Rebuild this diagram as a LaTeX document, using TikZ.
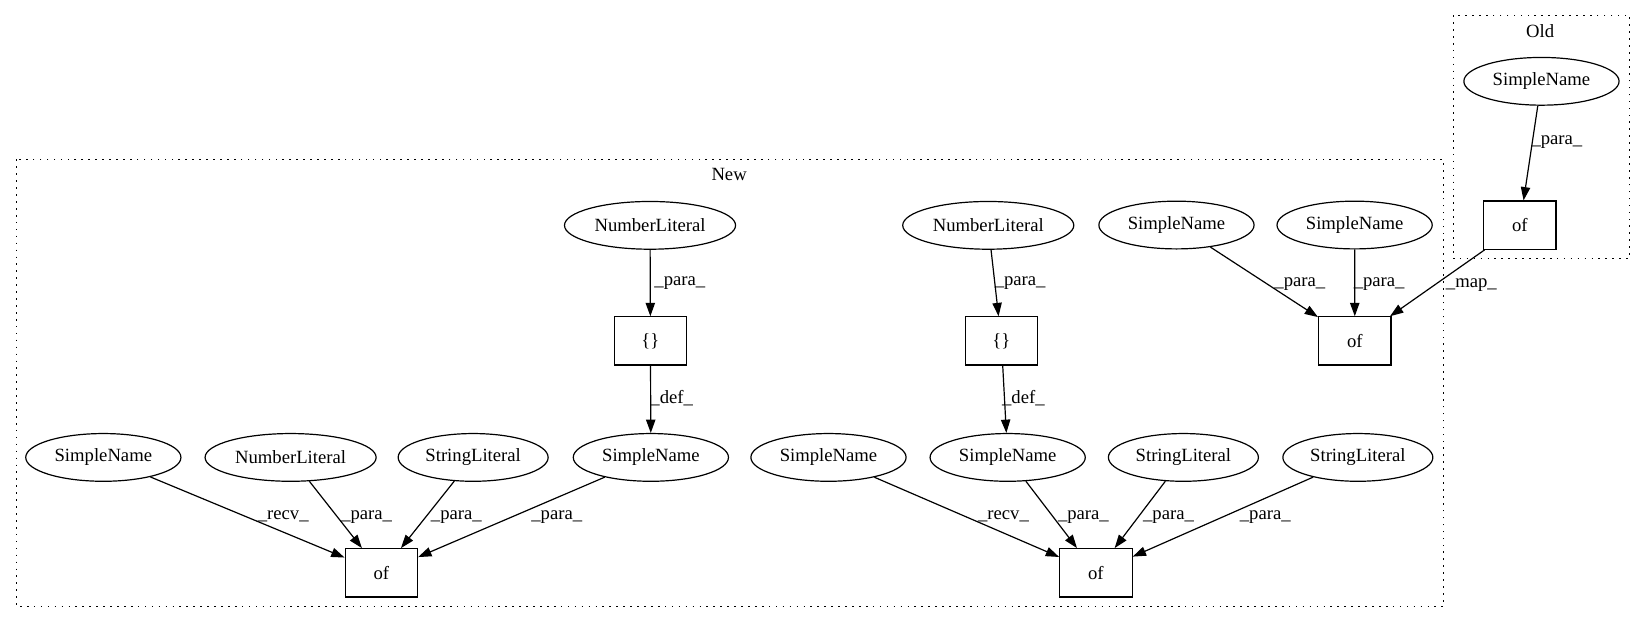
\documentclass[tikz,border=0pt]{standalone}
\usepackage{fontspec}
\setmainfont{Liberation Serif}
\usetikzlibrary{shapes.geometric,arrows.meta,calc}
\begin{document}
\begin{tikzpicture}[x=0.7868pt,y=-0.7868pt,
  every node/.style={font=\fontsize{14pt}{16pt}\selectfont},
  base/.style={draw,line width=0.9pt,inner sep=0pt,minimum height=35.8pt},
  sname/.style={base,ellipse,minimum width=116.4pt},
  nlit/.style={base,ellipse,minimum width=128.3pt},
  slit/.style={base,ellipse,minimum width=112.5pt},
  box/.style={base,rectangle,minimum width=54.3pt,minimum height=36.2pt},
  lbl/.style={inner sep=0pt},
  edge/.style={line width=0.9pt,-{Triangle[length=10pt,width=7pt]}},
  cluster/.style={line width=0.9pt,dash pattern=on 1.2pt off 4pt}
]
\useasboundingbox (0,0) rectangle (1568,595);
% clusters
\draw[cluster] (15.5,152) rectangle (1376,578);
\node[lbl] (newlbl) at (695,166) {New};
\draw[cluster] (1385.5,14.5) rectangle (1553,246.5);
\node[lbl] (oldlbl) at (1468,29.5) {Old};

% Old
\node[sname] (osn) at (1469.3,77.5) {SimpleName};
\node[box] (oof) at (1448.7,214.6) {of};

% New top row
\node[nlit] (nl1) at (619.6,214.8) {NumberLiteral};
\node[nlit] (nl2) at (942,214.8) {NumberLiteral};
\node[sname] (sn5) at (1121.4,214.5) {SimpleName};
\node[sname] (sn6) at (1291.2,214.5) {SimpleName};
% second row
\node[box] (br1) at (620,325) {\{\}};
\node[box] (br2) at (954.5,325) {\{\}};
\node[box] (of3) at (1291.4,325) {of};
% third row
\node[sname] (sn1) at (98.5,436) {SimpleName};
\node[nlit] (nl3) at (277,436) {NumberLiteral};
\node[slit] (sl1) at (451,436) {StringLiteral};
\node[sname] (sn2) at (620.4,436) {SimpleName};
\node[sname] (sn3) at (789.7,436) {SimpleName};
\node[sname] (sn4) at (960.5,436) {SimpleName};
\node[slit] (sl2) at (1128,436) {StringLiteral};
\node[slit] (sl3) at (1294.3,436) {StringLiteral};
% bottom row
\node[box] (of1) at (363.5,546) {of};
\node[box] (of2) at (1044.6,546) {of};

% edges
\draw[edge] (osn) -- (oof);
\node[lbl] (e1) at (1484,135) {\_para\_};
\draw[edge] (oof) -- (of3);
\node[lbl] (e2) at (1402.5,271.5) {\_map\_};
\draw[edge] (sn5) -- (of3);
\node[lbl] (e3) at (1239,271) {\_para\_};
\draw[edge] (sn6) -- (of3);
\node[lbl] (e4) at (1314.6,271) {\_para\_};

\draw[edge] (nl1) -- (br1);
\node[lbl] (e5) at (648,270) {\_para\_};
\draw[edge] (br1) -- (sn2);
\node[lbl] (e6) at (640.3,379.7) {\_def\_};
\draw[edge] (nl2) -- (br2);
\node[lbl] (e7) at (972.4,270) {\_para\_};
\draw[edge] (br2) -- (sn4);
\node[lbl] (e8) at (975.5,379.7) {\_def\_};

\draw[edge] (sn1) -- (of1);
\node[lbl] (e9) at (270,492.5) {\_recv\_};
\draw[edge] (nl3) -- (of1);
\node[lbl] (e10) at (349.5,492.5) {\_para\_};
\draw[edge] (sl1) -- (of1);
\node[lbl] (e11) at (435,492.5) {\_para\_};
\draw[edge] (sn2) -- (of1);
\node[lbl] (e12) at (530.7,492.5) {\_para\_};

\draw[edge] (sn3) -- (of2);
\node[lbl] (e13) at (956.5,492.5) {\_recv\_};
\draw[edge] (sn4) -- (of2);
\node[lbl] (e14) at (1032.7,492.5) {\_para\_};
\draw[edge] (sl2) -- (of2);
\node[lbl] (e15) at (1113.8,492.5) {\_para\_};
\draw[edge] (sl3) -- (of2);
\node[lbl] (e16) at (1206,492.5) {\_para\_};
\end{tikzpicture}
\end{document}
